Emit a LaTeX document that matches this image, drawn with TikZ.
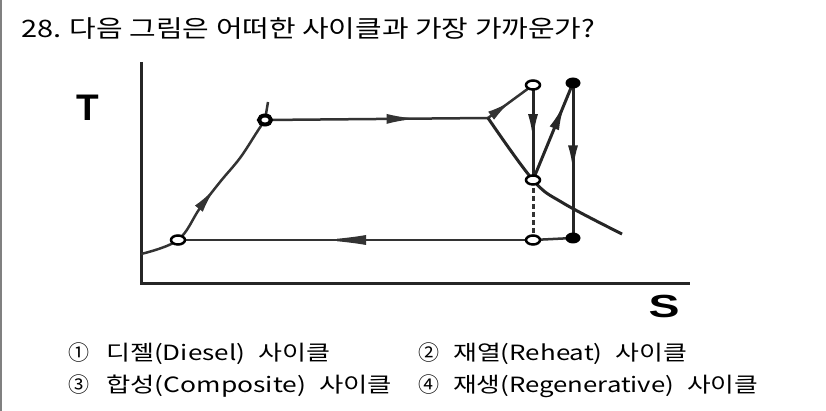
\documentclass[tikz,border=0pt]{standalone}
\usepackage{fontspec}
\setmainfont{Noto Sans CJK KR}
\newfontfamily\axisfont{Liberation Sans}
\usetikzlibrary{arrows.meta,decorations.markings,shapes.geometric}

\begin{document}
\begin{tikzpicture}[
  x=1pt,y=-1pt,
  axis line/.style={
    line width=3pt,
    black!85
  },
  cycle line/.style={
    line width=2.5pt,
    black!80
  },
  open dot/.style={
    ellipse,
    draw,
    fill=white,
    line width=2.5pt,
    minimum width=14pt,
    minimum height=9pt,
    inner sep=0pt
  },
  full dot/.style={
    ellipse,
    fill=black,
    minimum width=15pt,
    minimum height=11pt,
    inner sep=0pt
  },
  flow/.style 2 args={
    postaction=decorate,
    decoration={
      markings,
      mark=at position #1 with {\arrow{Latex[length=#2,width=10pt]}}
    }
  },
  question/.style={
    anchor=base west,
    inner sep=0pt,
    font=\fontsize{24}{24}\selectfont
  },
  choice/.style={
    anchor=base west,
    inner sep=0pt,
    font=\fontsize{21}{21}\selectfont
  },
]
\useasboundingbox (0,0) rectangle (826,411);
\draw[gray,line width=1.5pt] (1,0) -- (1,411);

\node[question] (title) at (21,38) {\resizebox{574pt}{\height}{28. 다음 그림은 어떠한 사이클과 가장 가까운가?}};

\coordinate (origin) at (141,283);
\coordinate (ttop) at (141,62);
\coordinate (send) at (690,283);
\draw[axis line] (ttop) -- (origin) -- (send);
\node[font=\axisfont\bfseries\fontsize{37}{37}\selectfont] (tlabel) at (88,108) {T};
\node[font=\axisfont\bfseries\fontsize{32}{32}\selectfont] (slabel) at (664,306) {\scalebox{1.45}[1]{S}};

\coordinate (start) at (141,254);
\coordinate (pa) at (178,240);
\coordinate (pb) at (265,120);
\coordinate (pbtick) at (268,102);
\coordinate (pc) at (488,118);
\coordinate (pd) at (533,85);
\coordinate (pe) at (533,180);
\coordinate (pf) at (573,83);
\coordinate (pg) at (573,238);
\coordinate (ph) at (533,240);
\coordinate (sat) at (622,234);

\draw[cycle line,flow={0.55}{26pt}] plot[smooth,tension=0.6] coordinates {(start) (pa) (200,208) (220,182) (240,158) (257,132) (pb)};
\draw[cycle line] (pb) -- (pbtick);
\draw[cycle line,flow={0.68}{30pt}] (pb) -- (pc);
\draw[cycle line,flow={0.5}{24pt}] (pc) -- (pd);
\draw[axis line] plot[smooth,tension=0.6] coordinates {(pc) (pe) (563,203) (sat)};
\draw[axis line,flow={0.58}{26pt}] (pd) -- (pe);
\draw[axis line,flow={0.8}{28pt}] (pe) -- (pf);
\draw[axis line,flow={0.57}{26pt}] (pf) -- (pg);
\draw[line width=3pt,black!80,dash pattern=on 5pt off 3pt] (pe) -- (ph);
\draw[cycle line] (pg) -- (ph);
\draw[cycle line,flow={0.6}{46pt}] (ph) -- (pa);

\foreach \p in {pa,pd,pe,ph}
  \node[open dot] (\p-dot) at (\p) {};
\node[open dot,line width=4pt,minimum width=12pt] (pb-dot) at (pb) {};
\foreach \p in {pf,pg}
  \node[full dot] (\p-dot) at (\p) {};

\node[choice] (n1) at (68,360) {①};
\node[choice] (c1) at (106,360) {\resizebox{224pt}{\height}{디젤(Diesel)\hspace{.5em}사이클}};
\node[choice] (n2) at (418,360) {②};
\node[choice] (c2) at (453,360) {\resizebox{234pt}{\height}{재열(Reheat)\hspace{.5em}사이클}};
\node[choice] (n3) at (68,392) {③};
\node[choice] (c3) at (106,392) {\resizebox{286pt}{\height}{합성(Composite)\hspace{.5em}사이클}};
\node[choice] (n4) at (418,392) {④};
\node[choice] (c4) at (453,392) {\resizebox{305pt}{\height}{재생(Regenerative)\hspace{.5em}사이클}};
\end{tikzpicture}
\end{document}
